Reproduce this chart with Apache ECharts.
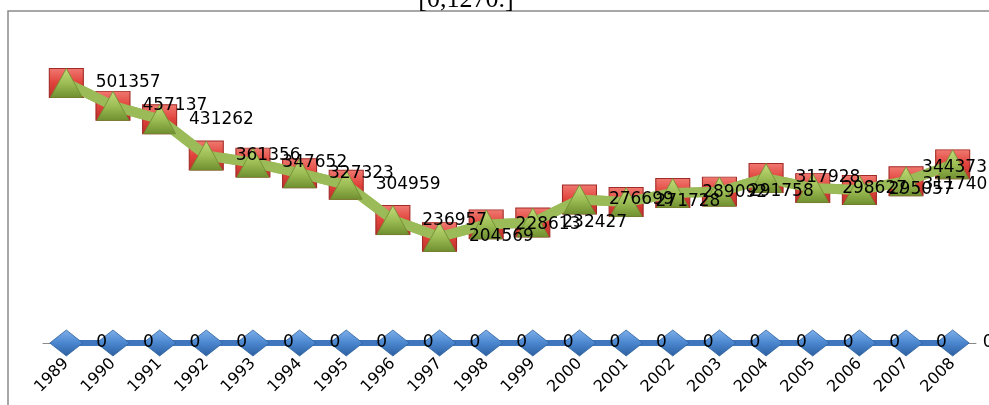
<!DOCTYPE html>
<html>
<head>
<meta charset="utf-8">
<script src="https://cdn.jsdelivr.net/npm/echarts@6/dist/echarts.min.js"></script>
<style>
html,body{margin:0;padding:0;background:#fff;}
#chart{width:989px;height:405px;}
</style>
</head>
<body>
<div id="chart"></div>
<script>
var years = ['1989','1990','1991','1992','1993','1994','1995','1996','1997','1998','1999','2000','2001','2002','2003','2004','2005','2006','2007','2008'];
var zeroSeries = [0,0,0,0,0,0,0,0,0,0,0,0,0,0,0,0,0,0,0,0];
var redSeries = [501357,457137,431262,361356,347652,327323,304959,236957,204569,228613,232427,276699,271728,289092,291758,317928,298627,295057,311740,344373];
var greenSeries = [501357,457137,431262,361356,347652,327323,304959,236957,204569,228613,232427,276699,271728,289092,291758,317928,298627,295057,311740,344373];
var titleText = '[0,1270.]';

var chart = echarts.init(document.getElementById('chart'), null, {renderer: 'canvas'});

var lastIdx = greenSeries.length - 1;
var greenData = greenSeries.map(function (v, i) {
  if (i === lastIdx) return {value: v, label: {offset: [-60, 3]}};
  if (i === lastIdx - 1) return {value: v, label: {offset: [-13, 3]}};
  return v;
});

var labelFont = {fontFamily: 'DejaVu Sans', fontSize: 17, color: '#000'};

var option = {
  animation: false,
  backgroundColor: '#fff',
  graphic: [
    {type: 'rect', z: -10, shape: {x: 8, y: 11, width: 1200, height: 600},
     style: {fill: 'none', stroke: '#8a8a8a', lineWidth: 1.5}},
    {type: 'text', z: 10, x: 466, y: 13,
     style: {text: titleText, font: '26px "Liberation Serif"', fill: '#000', textAlign: 'center', textVerticalAlign: 'bottom'}}
  ],
  grid: {left: 43, right: 13, top: 11, bottom: 62, containLabel: false},
  xAxis: {
    type: 'category',
    data: years,
    boundaryGap: true,
    axisLine: {show: true, lineStyle: {color: '#8a8a8a', width: 1}},
    axisTick: {show: false},
    axisLabel: {rotate: 45, margin: 18, fontFamily: 'DejaVu Sans', fontSize: 16, color: '#000', interval: 0}
  },
  yAxis: {
    type: 'value',
    min: 0,
    max: 640000,
    interval: 640000,
    show: false,
    splitLine: {show: false}
  },
  series: [
    {
      name: 'zero',
      type: 'line',
      data: zeroSeries,
      symbol: 'diamond',
      symbolSize: [33, 26],
      lineStyle: {color: '#3f76bd', width: 6},
      itemStyle: {
        color: new echarts.graphic.LinearGradient(0, 0, 0, 1, [
          {offset: 0, color: '#7fb0ea'}, {offset: 0.5, color: '#4a86cf'}, {offset: 1, color: '#2c5f9f'}]),
        borderColor: '#2f629f', borderWidth: 0.8
      },
      label: Object.assign({show: true, position: 'right', distance: 13}, labelFont),
      z: 2
    },
    {
      name: 'red',
      type: 'line',
      data: redSeries,
      symbol: 'rect',
      symbolSize: [34, 29],
      lineStyle: {color: '#9bbb59', width: 10},
      itemStyle: {
        color: new echarts.graphic.LinearGradient(0, 0, 0, 1, [
          {offset: 0, color: '#f07a72'}, {offset: 0.5, color: '#e0433b'}, {offset: 1, color: '#b9302a'}]),
        borderColor: '#a12a26', borderWidth: 1
      },
      label: {show: false},
      z: 3
    },
    {
      name: 'green',
      type: 'line',
      data: greenData,
      symbol: 'triangle',
      symbolSize: [32, 29],
      lineStyle: {color: '#9bbb59', width: 10},
      itemStyle: {
        color: new echarts.graphic.LinearGradient(0, 0, 0, 1, [
          {offset: 0, color: '#c3dd7c'}, {offset: 0.5, color: '#9dbd55'}, {offset: 1, color: '#6f8f30'}]),
        borderColor: '#6e8b2e', borderWidth: 0.8
      },
      label: Object.assign({show: true, position: 'right', distance: 13}, labelFont),
      z: 4
    }
  ]
};
chart.setOption(option);
</script>
</body>
</html>
